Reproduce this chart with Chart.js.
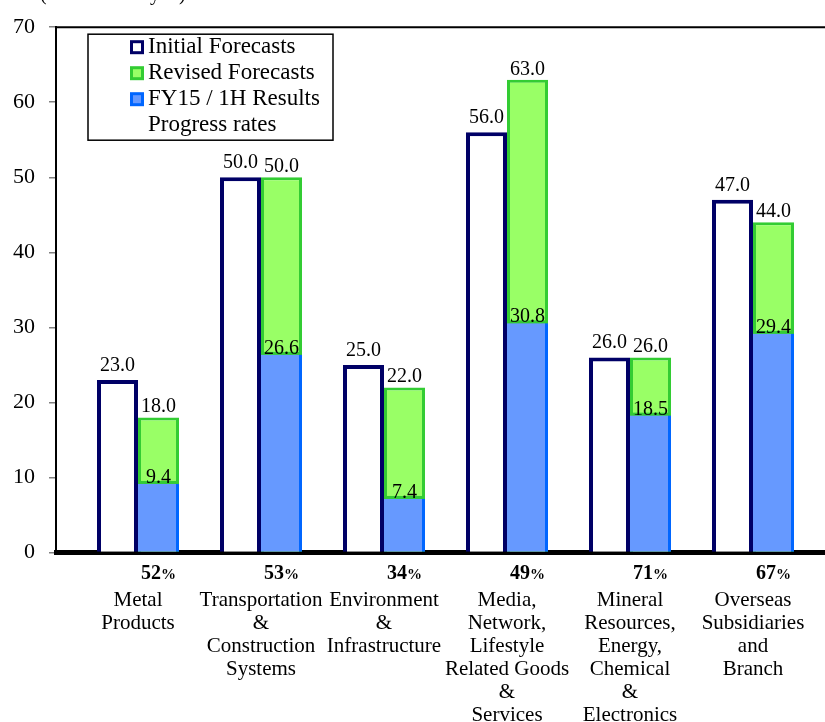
<!DOCTYPE html>
<html>
<head>
<meta charset="UTF-8">
<title>Forecasts by segment</title>
<script src="https://cdn.jsdelivr.net/npm/chart.js"></script>
<style>
    body { margin: 0; background: #fff; }
    #wrap { width: 825px; height: 722px; }
</style>
</head>
<body>
<div id="wrap"><canvas id="segChart" width="825" height="722"></canvas></div>
<script>
    // values in billion yen
    const categories = [
        ['Metal', 'Products'],
        ['Transportation', '&', 'Construction', 'Systems'],
        ['Environment', '&', 'Infrastructure'],
        ['Media,', 'Network,', 'Lifestyle', 'Related Goods', '&', 'Services'],
        ['Mineral', 'Resources,', 'Energy,', 'Chemical', '&', 'Electronics'],
        ['Overseas', 'Subsidiaries', 'and', 'Branch']
    ];
    const initialForecasts = [23.0, 50.0, 25.0, 56.0, 26.0, 47.0];
    const revisedForecasts = [18.0, 50.0, 22.0, 63.0, 26.0, 44.0];
    const halfResults = [9.4, 26.6, 7.4, 30.8, 18.5, 29.4];
    const progressRates = ['52', '53', '34', '49', '71', '67'];
    const yTicks = [0, 10, 20, 30, 40, 50, 60, 70];
    const legendNames = ['Initial Forecasts', 'Revised Forecasts', 'FY15 / 1H Results', 'Progress rates'];

    const serif = "'Liberation Serif', 'Times New Roman', serif";

    function points(arr) {
        return arr.map(function(v, i) { return { x: i, y: v }; });
    }

    const extras = {
        id: 'extras',
        afterDatasetsDraw(chart) {
            const ctx = chart.ctx;
            const area = chart.chartArea;
            const initMeta = chart.getDatasetMeta(0);
            const revMeta = chart.getDatasetMeta(1);
            const resMeta = chart.getDatasetMeta(2);

            ctx.save();
            // green edge on top of the results part
            ctx.fillStyle = '#33CC33';
            resMeta.data.forEach(function(el) {
                ctx.fillRect(el.x - el.width / 2, el.y - 1, el.width, 3);
            });

            // top frame line
            ctx.strokeStyle = '#000';
            ctx.lineWidth = 2;
            ctx.beginPath();
            ctx.moveTo(area.left, area.top);
            ctx.lineTo(area.right, area.top);
            ctx.stroke();

            // value labels
            ctx.fillStyle = '#000';
            ctx.font = '20px ' + serif;
            ctx.textAlign = 'center';
            ctx.textBaseline = 'alphabetic';
            initMeta.data.forEach(function(el, i) {
                ctx.fillText(initialForecasts[i].toFixed(1), el.x, el.y - 9);
            });
            revMeta.data.forEach(function(el, i) {
                ctx.fillText(revisedForecasts[i].toFixed(1), el.x, el.y - 5);
            });
            resMeta.data.forEach(function(el, i) {
                ctx.fillText(halfResults[i].toFixed(1), el.x, el.y + 1);
            });

            // progress rates under the axis
            revMeta.data.forEach(function(el, i) {
                ctx.font = 'bold 20px ' + serif;
                const w1 = ctx.measureText(progressRates[i]).width;
                ctx.font = 'bold 15px ' + serif;
                const w2 = ctx.measureText('%').width;
                const x0 = el.x - (w1 + w2) / 2;
                ctx.textAlign = 'left';
                ctx.font = 'bold 20px ' + serif;
                ctx.fillText(progressRates[i], x0, area.bottom + 26);
                ctx.font = 'bold 15px ' + serif;
                ctx.fillText('%', x0 + w1, area.bottom + 26);
            });

            // unit text (cut at the top)
            ctx.textAlign = 'left';
            ctx.font = '20px ' + serif;
            ctx.fillText('(Unit: billion yen)', 40, 0);

            // legend box
            const bx = area.left + 32, by = area.top + 7;
            ctx.strokeStyle = '#000';
            ctx.lineWidth = 1.5;
            ctx.fillStyle = '#fff';
            ctx.fillRect(bx, by, 245, 106);
            ctx.strokeRect(bx, by, 245, 106);
            const fills = ['#FFFFFF', '#99FF66', '#6699FF'];
            const borders = ['#000066', '#33CC33', '#0066FF'];
            ctx.font = '23px ' + serif;
            ctx.textBaseline = 'middle';
            legendNames.forEach(function(name, i) {
                const cy = by + 13 + i * 26;
                if (i < 3) {
                    ctx.fillStyle = borders[i];
                    ctx.fillRect(bx + 42, cy - 7, 14, 14);
                    ctx.fillStyle = fills[i];
                    ctx.fillRect(bx + 45, cy - 4, 8, 8);
                }
                ctx.fillStyle = '#000';
                ctx.fillText(name, bx + 60, cy);
            });
            ctx.restore();
        }
    };

    const ctx = document.getElementById('segChart').getContext('2d');
    const segChart = new Chart(ctx, {
        type: 'bar',
        data: {
            datasets: [{
                label: legendNames[0],
                data: points(initialForecasts),
                backgroundColor: '#FFFFFF',
                borderColor: '#000066',
                borderWidth: 4,
                stack: 'a',
                order: 0
            },
            {
                label: legendNames[1],
                data: points(revisedForecasts),
                backgroundColor: '#99FF66',
                borderColor: '#33CC33',
                borderWidth: 3,
                stack: 'b',
                order: 2
            },
            {
                label: legendNames[2],
                data: points(halfResults),
                backgroundColor: '#6699FF',
                borderColor: '#0066FF',
                borderWidth: { top: 0, right: 3, bottom: 0, left: 0 },
                stack: 'b',
                order: 1
            }]
        },
        options: {
            responsive: false,
            animation: false,
            categoryPercentage: 82 / 123,
            barPercentage: 1,
            layout: { padding: { top: 24, right: 0, bottom: 0, left: 0 } },
            plugins: {
                legend: { display: false },
                tooltip: { enabled: false }
            },
            scales: {
                x: {
                    type: 'linear',
                    stacked: true,
                    offset: false,
                    bounds: 'data',
                    min: -82 / 123,
                    max: 687 / 123,
                    afterBuildTicks: function(scale) {
                        scale.ticks = categories.map(function(c, i) { return { value: i }; });
                    },
                    afterFit: function(scale) {
                        scale.height = 169.5;
                        scale.paddingLeft = 0;
                        scale.paddingRight = 0;
                    },
                    grid: { display: true, offset: false, drawOnChartArea: false, drawTicks: false },
                    border: { display: true, color: '#000', width: 5 },
                    ticks: {
                        autoSkip: false,
                        maxRotation: 0,
                        padding: 36,
                        color: '#000',
                        font: { family: serif, size: 21, lineHeight: 1.1 },
                        callback: function(value) { return categories[value]; }
                    }
                },
                y: {
                    stacked: false,
                    min: 0,
                    max: 70,
                    afterBuildTicks: function(scale) {
                        scale.ticks = yTicks.map(function(v) { return { value: v }; });
                    },
                    afterFit: function(scale) { scale.width = 56; },
                    grid: { drawOnChartArea: false, drawTicks: true, tickLength: 7, color: '#808080', lineWidth: 1.5 },
                    border: { display: true, color: '#000', width: 2 },
                    ticks: {
                        padding: 14,
                        color: '#000',
                        font: { family: serif, size: 22 }
                    }
                }
            }
        },
        plugins: [extras]
    });
</script>
</body>
</html>
